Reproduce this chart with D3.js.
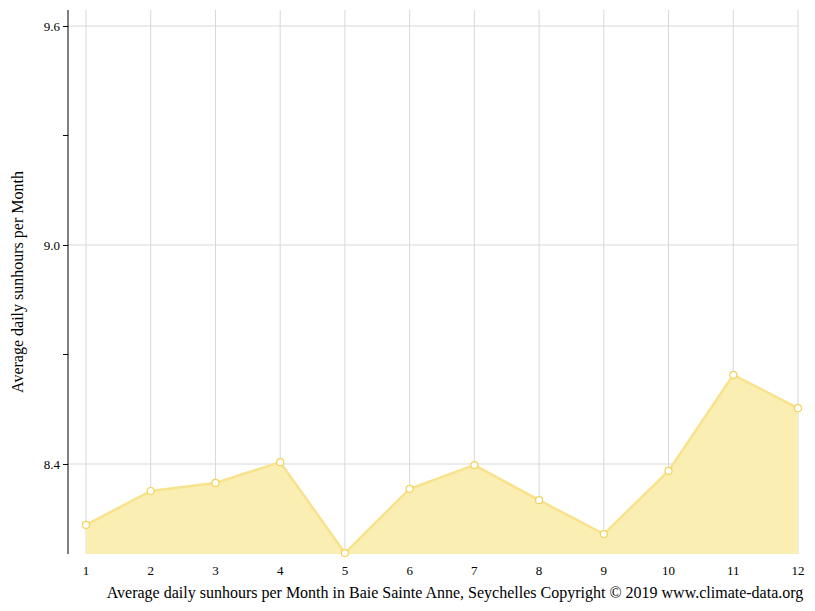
<!DOCTYPE html>
<html><head><meta charset="utf-8">
<script src="https://cdn.jsdelivr.net/npm/d3@7"></script>
<style>body{margin:0;background:#fff}text{font-family:"Liberation Serif",serif}</style>
</head><body><svg width="815" height="611"></svg>
<script>
const months=[1,2,3,4,5,6,7,8,9,10,11,12];
const sunhours=[8.233,8.326,8.348,8.405,8.156,8.332,8.397,8.301,8.208,8.381,8.644,8.553];
const majorTicks=[8.4,9.0,9.6];
const minorTicks=[8.7,9.3];
const svg=d3.select("svg");
const x=d3.scaleLinear().domain([1,12]).range([86,798]);
const y=d3.scaleLinear().domain([8.1534,9.6438]).range([554,10]);
const g=svg.append("g");
months.forEach(m=>g.append("line").attr("x1",x(m)).attr("x2",x(m)).attr("y1",10).attr("y2",554).attr("stroke","#d8d8d8"));
majorTicks.forEach(t=>g.append("line").attr("x1",68).attr("x2",798).attr("y1",y(t)).attr("y2",y(t)).attr("stroke","#d8d8d8"));
const data=months.map((m,i)=>[m,sunhours[i]]);
svg.append("path").datum(data).attr("d",d3.area().x(d=>x(d[0])).y0(554).y1(d=>y(d[1]))).attr("fill","#faeeb2");
svg.append("path").datum(data).attr("d",d3.line().x(d=>x(d[0])).y(d=>y(d[1]))).attr("fill","none").attr("stroke","#f8e28c").attr("stroke-width",2.5);
svg.selectAll("circle").data(data).join("circle").attr("cx",d=>x(d[0])).attr("cy",d=>y(d[1])).attr("r",3.5).attr("fill","#fff").attr("stroke","#f2d35a").attr("stroke-width",1.2);
const ya=svg.append("g").attr("transform","translate(68,0)").call(d3.axisLeft(y).tickValues(majorTicks).tickFormat(d3.format(".1f")).tickSize(5));
ya.select(".domain").attr("d","M0,10V554");
ya.selectAll("text").attr("font-size",13).attr("font-family","Liberation Serif").attr("fill","#000");
minorTicks.forEach(t=>svg.append("line").attr("x1",63).attr("x2",68).attr("y1",y(t)).attr("y2",y(t)).attr("stroke","#000"));
months.forEach(m=>svg.append("text").attr("x",x(m)).attr("y",575).attr("text-anchor","middle").attr("font-size",13).text(m));
svg.append("text").attr("x",455).attr("y",598).attr("text-anchor","middle").attr("font-size",16).text("Average daily sunhours per Month in Baie Sainte Anne, Seychelles Copyright © 2019 www.climate-data.org");
svg.append("text").attr("transform","translate(23,282) rotate(-90)").attr("text-anchor","middle").attr("font-size",16).text("Average daily sunhours per Month");
</script></body></html>
